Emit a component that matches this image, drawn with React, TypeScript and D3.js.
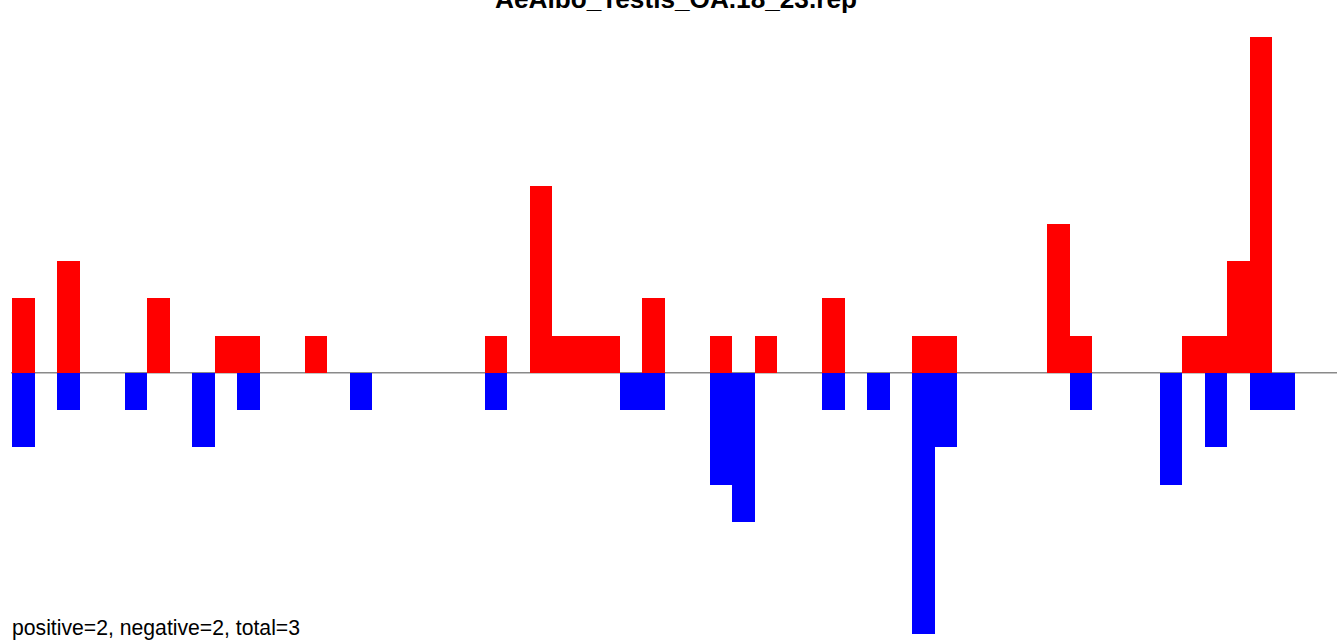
import React from "react";
import * as d3 from "d3";

const TITLE = "AeAlbo_Testis_OA.18_23.rep";
const FOOTER = "positive=2, negative=2, total=3";

// bin index 0..56
const bins = d3.range(57);
const positive = [2,0,3,0,0,0,2,0,0,1, 1,0,0,1,0,0,0,0,0,0, 0,1,0,5,1,1,1,0,2,0, 0,1,0,1,0,0,2,0,0,0, 1,1,0,0,0,0,4,1,0,0, 0,0,1,1,3,9,0];
const negative = [2,0,1,0,0,1,0,0,2,0, 1,0,0,0,0,1,0,0,0,0, 0,1,0,0,0,0,0,1,1,0, 0,3,4,0,0,0,1,0,1,0, 7,2,0,0,0,0,0,1,0,0, 0,3,0,2,0,1,1];

const W = 1337;
const H = 640;

export default function App() {
  const x = d3.scaleLinear().domain([0, 57]).range([12, 1294.5]);
  const y = d3.scaleLinear().domain([-7, 9]).range([634, 37]);
  const bw = x(1) - x(0);
  const y0 = y(0);

  return (
    <svg
      width={W}
      height={H}
      style={{ position: "fixed", left: 0, top: 0, background: "#fff" }}
    >
      <rect x={0} y={0} width={W} height={H} fill="#fff" />
      <line x1={11} x2={W} y1={y0} y2={y0} stroke="#8a8a8a" strokeWidth={1.6} />
      {bins.map((b, i) =>
        positive[i] > 0 ? (
          <rect
            key={"p" + b}
            x={x(b)}
            width={bw}
            y={y(positive[i])}
            height={y0 - y(positive[i])}
            fill="#ff0000"
            shapeRendering="crispEdges"
          />
        ) : null
      )}
      {bins.map((b, i) =>
        negative[i] > 0 ? (
          <rect
            key={"n" + b}
            x={x(b)}
            width={bw}
            y={y0}
            height={y(-negative[i]) - y0}
            fill="#0000ff"
            shapeRendering="crispEdges"
          />
        ) : null
      )}
      <text
        x={676}
        y={8}
        textAnchor="middle"
        fontFamily="Liberation Sans, Arial, sans-serif"
        fontWeight="bold"
        fontSize={26.2}
        fill="#000"
      >
        {TITLE}
      </text>
      <text
        x={12}
        y={635}
        fontFamily="Liberation Sans, Arial, sans-serif"
        fontSize={21.2}
        fill="#000"
      >
        {FOOTER}
      </text>
    </svg>
  );
}
